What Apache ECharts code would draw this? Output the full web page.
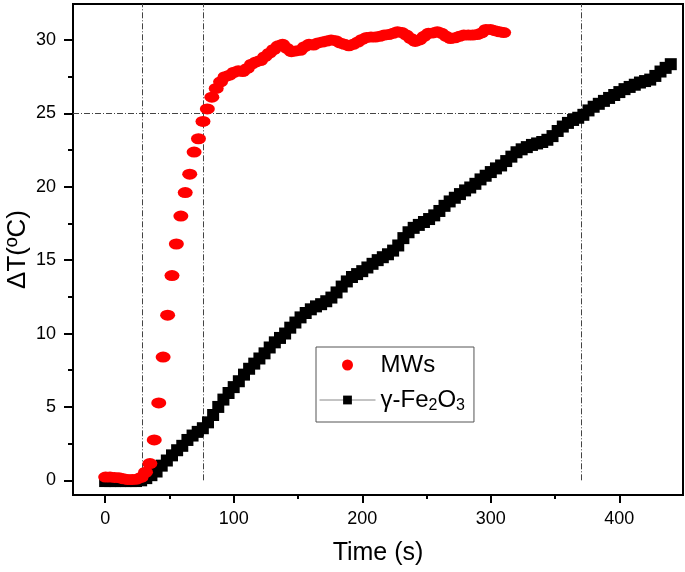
<!DOCTYPE html>
<html>
<head>
<meta charset="utf-8">
<script src="https://cdn.jsdelivr.net/npm/echarts@6.0.0/dist/echarts.min.js"></script>
<style>
html,body{margin:0;padding:0;background:#fff;}
#chart{width:685px;height:572px;}
</style>
</head>
<body>
<div id="chart"></div>
<script>
// ---- data ----
var mwTime = [0.4, 3.8, 7.3, 10.7, 14.2, 17.6, 21.0, 24.5, 27.9, 31.4,
  34.8, 38.2, 41.7, 45.1, 48.6, 52.0, 55.4, 58.9, 62.3, 65.8,
  69.2, 72.6, 76.1, 79.5, 83.0, 86.4, 89.8, 93.3, 96.7, 100.2,
  103.6, 107.0, 110.5, 113.9, 117.4, 120.8, 124.2, 127.7, 131.1, 134.6,
  138.0, 141.4, 144.9, 148.3, 151.8, 155.2, 158.6, 162.1, 165.5, 169.0,
  172.4, 175.8, 179.3, 182.7, 186.2, 189.6, 193.0, 196.5, 199.9, 203.4,
  206.8, 210.2, 213.7, 217.1, 220.6, 224.0, 227.4, 230.9, 234.3, 237.8,
  241.2, 244.6, 248.1, 251.5, 255.0, 258.4, 261.8, 265.3, 268.7, 272.2,
  275.6, 279.0, 282.5, 285.9, 289.4, 292.8, 296.2, 299.7, 303.1, 306.6,
  310.0];
var mwDeltaT = [0.22, 0.22, 0.2, 0.18, 0.1, 0.05, 0.05, 0.08, 0.2, 0.55,
  1.14, 2.75, 5.27, 8.4, 11.25, 13.95, 16.1, 18.0, 19.6, 20.86,
  22.36, 23.27, 24.45, 25.3, 26.1, 26.7, 27.15, 27.5, 27.6, 27.8,
  27.9, 27.85, 28.06, 28.35, 28.5, 28.6, 28.86, 29.1, 29.35, 29.6,
  29.7, 29.43, 29.2, 29.25, 29.3, 29.54, 29.7, 29.65, 29.8, 29.86,
  29.93, 30.0, 29.95, 29.8, 29.7, 29.6, 29.7, 29.86, 30.04, 30.17,
  30.2, 30.2, 30.25, 30.33, 30.37, 30.45, 30.56, 30.5, 30.33, 30.1,
  29.9, 30.0, 30.25, 30.45, 30.48, 30.56, 30.45, 30.25, 30.1, 30.15,
  30.25, 30.33, 30.33, 30.33, 30.37, 30.48, 30.72, 30.72, 30.63, 30.56,
  30.5];
var feTime = [0, 4, 8, 12, 16, 20, 24, 28, 32, 36,
  40, 44, 48, 52, 56, 60, 64, 68, 72, 76,
  80, 84, 88, 92, 96, 100, 104, 108, 112, 116,
  120, 124, 128, 132, 136, 140, 144, 148, 152, 156,
  160, 164, 168, 172, 176, 180, 184, 188, 192, 196,
  200, 204, 208, 212, 216, 220, 224, 228, 232, 236,
  240, 244, 248, 252, 256, 260, 264, 268, 272, 276,
  280, 284, 288, 292, 296, 300, 304, 308, 312, 316,
  320, 324, 328, 332, 336, 340, 344, 348, 352, 356,
  360, 364, 368, 372, 376, 380, 384, 388, 392, 396,
  400, 404, 408, 412, 416, 420, 424, 428, 432, 436,
  440];
var feDeltaT = [-0.05, -0.05, -0.05, -0.05, -0.05, -0.05, -0.05, 0.0, 0.15, 0.35,
  0.6, 1.0, 1.35, 1.7, 2.05, 2.35, 2.75, 3.05, 3.3, 3.55,
  3.95, 4.45, 5.0, 5.5, 5.95, 6.35, 6.75, 7.2, 7.6, 7.95,
  8.3, 8.65, 9.05, 9.4, 9.7, 10.0, 10.4, 10.75, 11.1, 11.4,
  11.65, 11.85, 12.0, 12.2, 12.45, 12.8, 13.2, 13.55, 13.85, 14.05,
  14.25, 14.5, 14.75, 15.0, 15.2, 15.4, 15.65, 16.0, 16.5, 16.9,
  17.2, 17.4, 17.6, 17.8, 18.05, 18.35, 18.7, 19.0, 19.25, 19.5,
  19.75, 19.95, 20.2, 20.5, 20.75, 21.0, 21.25, 21.45, 21.75, 22.05,
  22.35, 22.55, 22.7, 22.85, 22.95, 23.05, 23.2, 23.45, 23.8, 24.1,
  24.35, 24.55, 24.7, 24.9, 25.2, 25.45, 25.65, 25.85, 26.05, 26.25,
  26.45, 26.65, 26.8, 26.95, 27.1, 27.2, 27.3, 27.55, 27.85, 28.1,
  28.35];
var xMajorTicks = [0, 100, 200, 300, 400];
var xMinorTicks = [50, 150, 250, 350];
var yMajorTicks = [0, 5, 10, 15, 20, 25, 30];
var yMinorTicks = [2.5, 7.5, 12.5, 17.5, 22.5, 27.5];
var refTimes = [29, 76, 370];
var refDeltaT = 25;
var xRange = [-25, 449.5];
var yRange = [-1, 32.45];

// ---- chart ----
var FONT = 'Liberation Sans, Arial, sans-serif';
function zip(a, b) { return a.map(function (v, i) { return [v, b[i]]; }); }

var refLineData = refTimes.map(function (t) {
  return [{ coord: [t, 0] }, { coord: [t, yRange[1]] }];
});
refLineData.push([{ coord: [xRange[0], refDeltaT] }, { coord: [refTimes[2], refDeltaT] }]);

var chart = echarts.init(document.getElementById('chart'), null, { renderer: 'canvas' });
chart.setOption({
  animation: false,
  backgroundColor: '#fff',
  grid: {
    left: 73, right: 2, top: 4, bottom: 77,
    containLabel: false, outerBoundsMode: 'none',
    show: true, borderColor: '#000', borderWidth: 2, backgroundColor: 'transparent'
  },
  xAxis: [
    {
      type: 'value', min: xRange[0], max: xRange[1], position: 'bottom',
      axisLine: { show: true, onZero: false, lineStyle: { color: '#000', width: 2 } },
      axisTick: { show: true, customValues: xMajorTicks, length: 8, lineStyle: { color: '#000', width: 2 } },
      axisLabel: { customValues: xMajorTicks, fontSize: 18, color: '#000', margin: 15, fontFamily: FONT },
      splitLine: { show: false },
      name: 'Time (s)', nameLocation: 'middle', nameGap: 46, nameMoveOverlap: false,
      nameTextStyle: { fontSize: 25, color: '#000', fontFamily: FONT }
    },
    {
      type: 'value', min: xRange[0], max: xRange[1], position: 'bottom', offset: 0,
      axisLine: { show: false, onZero: false },
      axisTick: { show: true, customValues: xMinorTicks, length: 4, lineStyle: { color: '#000', width: 2 } },
      axisLabel: { show: false },
      splitLine: { show: false }
    }
  ],
  yAxis: [
    {
      type: 'value', min: yRange[0], max: yRange[1], position: 'left',
      axisLine: { show: true, onZero: false, lineStyle: { color: '#000', width: 2 } },
      axisTick: { show: true, customValues: yMajorTicks, length: 9, lineStyle: { color: '#000', width: 2 } },
      axisLabel: { customValues: yMajorTicks, fontSize: 18, color: '#000', margin: 17, fontFamily: FONT },
      splitLine: { show: false },
      name: 'ΔT(ºC)', nameLocation: 'middle', nameGap: 42, nameMoveOverlap: false,
      nameTextStyle: { fontSize: 26, color: '#000', fontFamily: FONT }
    },
    {
      type: 'value', min: yRange[0], max: yRange[1], position: 'left', offset: 0,
      axisLine: { show: false, onZero: false },
      axisTick: { show: true, customValues: yMinorTicks, length: 5, lineStyle: { color: '#000', width: 2 } },
      axisLabel: { show: false },
      splitLine: { show: false }
    }
  ],
  legend: {
    data: [
      { name: 'MWs', icon: 'circle' },
      { name: 'γ-Fe2O3', lineStyle: { color: '#888', width: 1 } }
    ],
    orient: 'vertical', left: 316, top: 347,
    padding: [4, 9, 8, 3], itemGap: 7,
    itemWidth: 56, itemHeight: 11,
    backgroundColor: '#fff', borderColor: '#555', borderWidth: 1,
    textStyle: {
      fontSize: 24, color: '#000', fontFamily: FONT, lineHeight: 28,
      rich: {
        n: { fontSize: 24, fontFamily: FONT, color: '#000', lineHeight: 28 },
        sub: { fontSize: 16, fontFamily: FONT, color: '#000', verticalAlign: 'bottom', lineHeight: 22 }
      }
    },
    formatter: function (name) {
      if (name === 'γ-Fe2O3') return '{n|γ-Fe}{sub|2}{n|O}{sub|3}';
      return name;
    }
  },
  series: [
    {
      name: 'γ-Fe2O3', type: 'line', xAxisIndex: 0, yAxisIndex: 0,
      data: zip(feTime, feDeltaT),
      symbol: 'rect', symbolSize: 12, showSymbol: true,
      itemStyle: { color: '#000' },
      lineStyle: { color: '#000', width: 1 },
      z: 3,
      markLine: {
        silent: true, symbol: ['none', 'none'], z: 1,
        label: { show: false },
        lineStyle: { type: [6, 2, 1, 2], color: '#444', width: 1 },
        emphasis: { disabled: true },
        data: refLineData
      }
    },
    {
      name: 'MWs', type: 'scatter', xAxisIndex: 0, yAxisIndex: 0,
      data: zip(mwTime, mwDeltaT),
      symbol: 'circle', symbolSize: [15, 11],
      itemStyle: { color: '#ff0000', opacity: 1 },
      z: 4
    }
  ]
});
</script>
</body>
</html>
